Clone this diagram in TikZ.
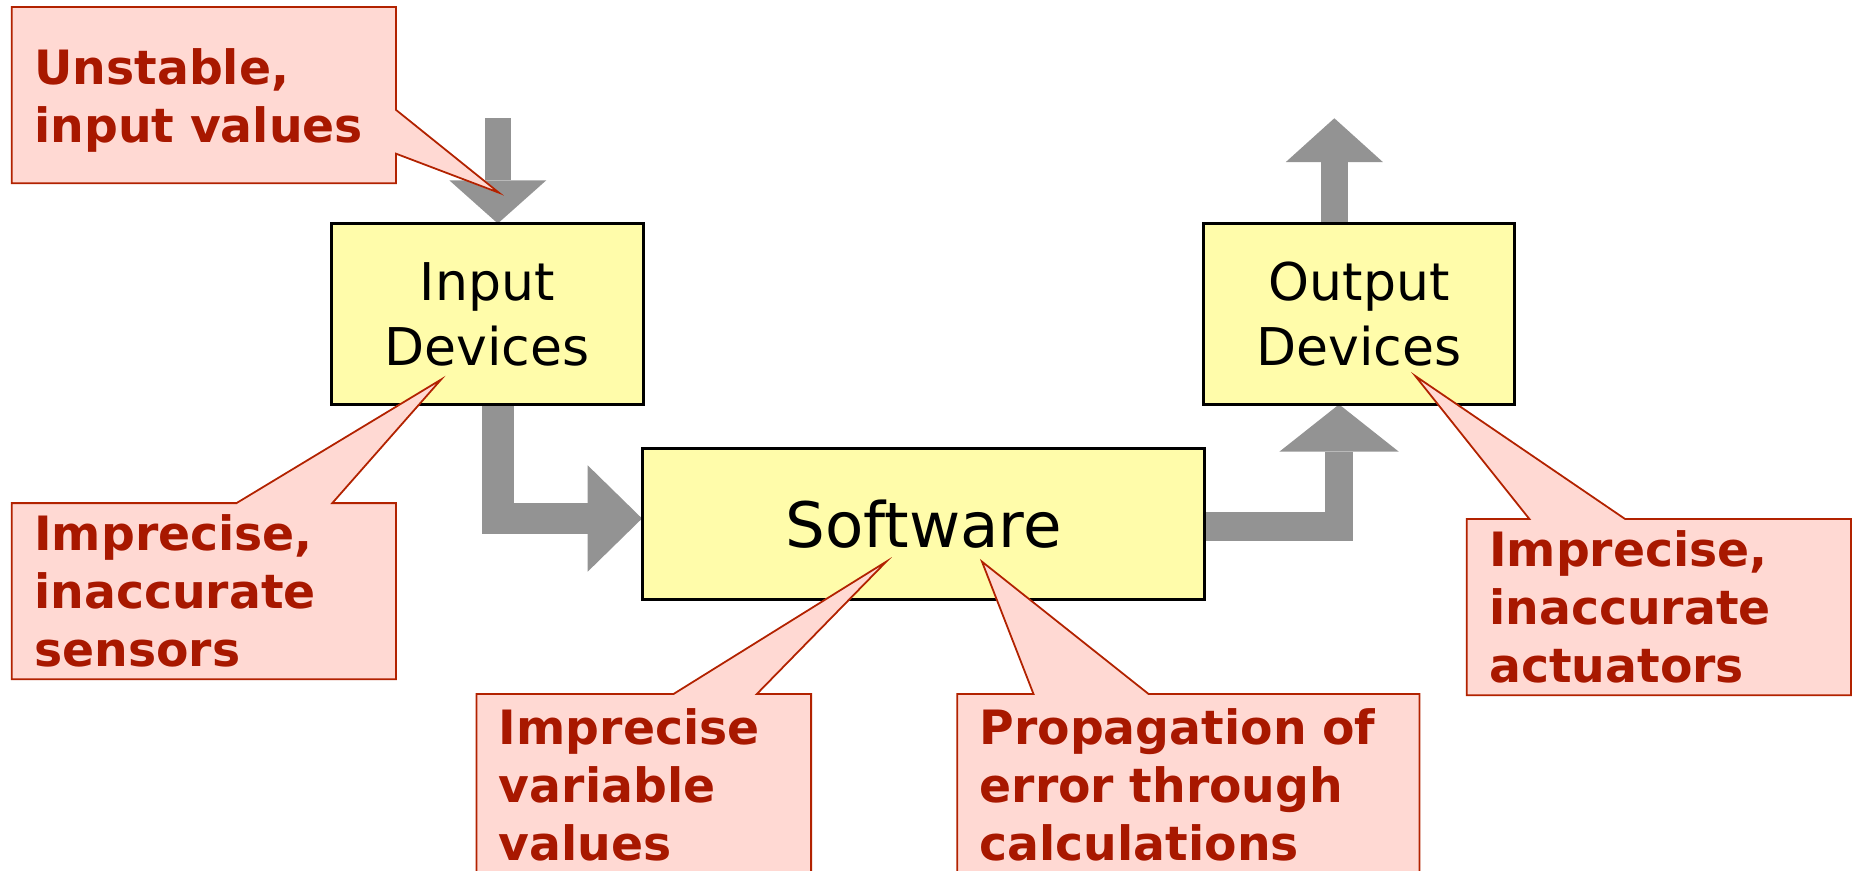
\documentclass[tikz,border=0pt]{standalone}
\usepackage{fontspec}
\setmainfont{DejaVu Sans}
\usetikzlibrary{calc,arrows.meta,backgrounds}

\definecolor{boxyellow}{RGB}{255,252,170}
\definecolor{arrowgray}{RGB}{147,147,147}
\definecolor{notepink}{RGB}{255,217,211}
\definecolor{notered}{RGB}{178,34,0}
\definecolor{notetext}{RGB}{168,24,0}

\tikzset{
  device/.style={draw=black, line width=1.25pt, fill=boxyellow, align=center, inner sep=0pt, outer sep=0pt},
  note/.style={fill=notepink, text=notetext, align=left, inner xsep=9.5pt, inner ysep=0pt, outer sep=0pt,
    font=\fontsize{20}{24.5}\selectfont\bfseries},
  noteline/.style={draw=notered, line width=0.75pt, line join=miter},
  notetip/.style={fill=notepink, draw=notepink, line width=0.5pt},
  flow/.style={draw=arrowgray, line width=#1},
}

\begin{document}
\begin{tikzpicture}[x=0.5pt, y=-0.5pt]
\useasboundingbox (0,0) rectangle (1568,736);
\clip (0,0) rectangle (1568,736);

% devices and software
\node[device, minimum width=132pt, minimum height=76.5pt, font=\fontsize{22}{27.5}\selectfont] (inDev) at (412,265.5) {Input\\Devices};
\node[device, minimum width=131.5pt, minimum height=76.5pt, font=\fontsize{22}{27.5}\selectfont] (outDev) at (1149.5,265.5) {Output\\Devices};
\node[device, minimum width=238pt, minimum height=63.8pt, font=\fontsize{26.5}{32}\selectfont] (soft) at (781,443) {Software};

\coordinate (inTop) at (421,100);
\coordinate (outTop) at (1128.5,100);

% gray flow arrows
\begin{scope}[on background layer]
\draw[flow=11pt, -{Triangle[width=41pt,length=18.25pt,line width=0pt]}] (inTop) -- ($(inDev.north)+(9,0)$);
\draw[flow=13.5pt, -{Triangle[width=45pt,length=23pt,line width=0pt]}] ($(inDev.south)+(9,0)$) |- ($(soft.west)+(0,-4.5)$);
\draw[flow=12pt, -{Triangle[width=50.5pt,length=20pt,line width=0pt]}] ($(soft.east)+(0,2.3)$) -| ($(outDev.south)+(-17,0)$);
\draw[flow=11.5pt, -{Triangle[width=41pt,length=18.5pt,line width=0pt]}] ($(outDev.north)+(-21,0)$) -- (outTop);
\end{scope}

% callouts
\node[note, text width=143.5pt, minimum height=74.5pt] (nUnstable) at (172.5,80.5) {Unstable,\\\smash{input values}};
\coordinate (u1) at ($(nUnstable.north east)+(0,87)$);
\coordinate (u2) at ($(nUnstable.north east)+(0,124)$);
\coordinate (uTip) at ($(inDev.north)+(10,-26)$);
\filldraw[notetip] (u1) -- (uTip) -- (u2) -- cycle;
\draw[noteline] (nUnstable.north west) -- (nUnstable.north east) -- (u1) -- (uTip) -- (u2) -- (nUnstable.south east) -- (nUnstable.south west) -- cycle;

\node[note, text width=143.5pt, minimum height=74.5pt] (nSensors) at (172.5,500) {Imprecise,\\inaccurate\\sensors};
\coordinate (s1) at ($(nSensors.north west)+(190,0)$);
\coordinate (s2) at ($(nSensors.north west)+(271,0)$);
\coordinate (sTip) at ($(inDev.south)+(-39,-21)$);
\filldraw[notetip] (s1) -- (sTip) -- (s2) -- cycle;
\draw[noteline] (nSensors.north west) -- (s1) -- (sTip) -- (s2) -- (nSensors.north east) -- (nSensors.south east) -- (nSensors.south west) -- cycle;

\node[note, text width=122.5pt, minimum height=77pt] (nVariable) at (544.5,664) {Imprecise\\variable\\values};
\coordinate (v1) at ($(nVariable.north west)+(166.5,0)$);
\coordinate (v2) at ($(nVariable.north west)+(237,0)$);
\coordinate (vTip) at ($(soft.center)+(-31.5,32)$);
\filldraw[notetip] (v1) -- (vTip) -- (v2) -- cycle;
\draw[noteline] (nVariable.north west) -- (v1) -- (vTip) -- (v2) -- (nVariable.north east) -- (nVariable.south east) -- (nVariable.south west) -- cycle;

\node[note, text width=176.5pt, minimum height=77pt] (nPropagation) at (1005,664) {Propagation of\\error through\\calculations};
\coordinate (p1) at ($(nPropagation.north west)+(64.6,0)$);
\coordinate (p2) at ($(nPropagation.north west)+(162,0)$);
\coordinate (pTip) at ($(soft.center)+(49.5,32)$);
\filldraw[notetip] (p1) -- (pTip) -- (p2) -- cycle;
\draw[noteline] (nPropagation.north west) -- (p1) -- (pTip) -- (p2) -- (nPropagation.north east) -- (nPropagation.south east) -- (nPropagation.south west) -- cycle;

\node[note, text width=143.5pt, minimum height=74.5pt] (nActuators) at (1403,513.5) {Imprecise,\\inaccurate\\actuators};
\coordinate (a1) at ($(nActuators.north west)+(53,0)$);
\coordinate (a2) at ($(nActuators.north west)+(134,0)$);
\coordinate (aTip) at ($(outDev.south)+(47.5,-24)$);
\filldraw[notetip] (a1) -- (aTip) -- (a2) -- cycle;
\draw[noteline] (nActuators.north west) -- (a1) -- (aTip) -- (a2) -- (nActuators.north east) -- (nActuators.south east) -- (nActuators.south west) -- cycle;

\end{tikzpicture}
\end{document}
